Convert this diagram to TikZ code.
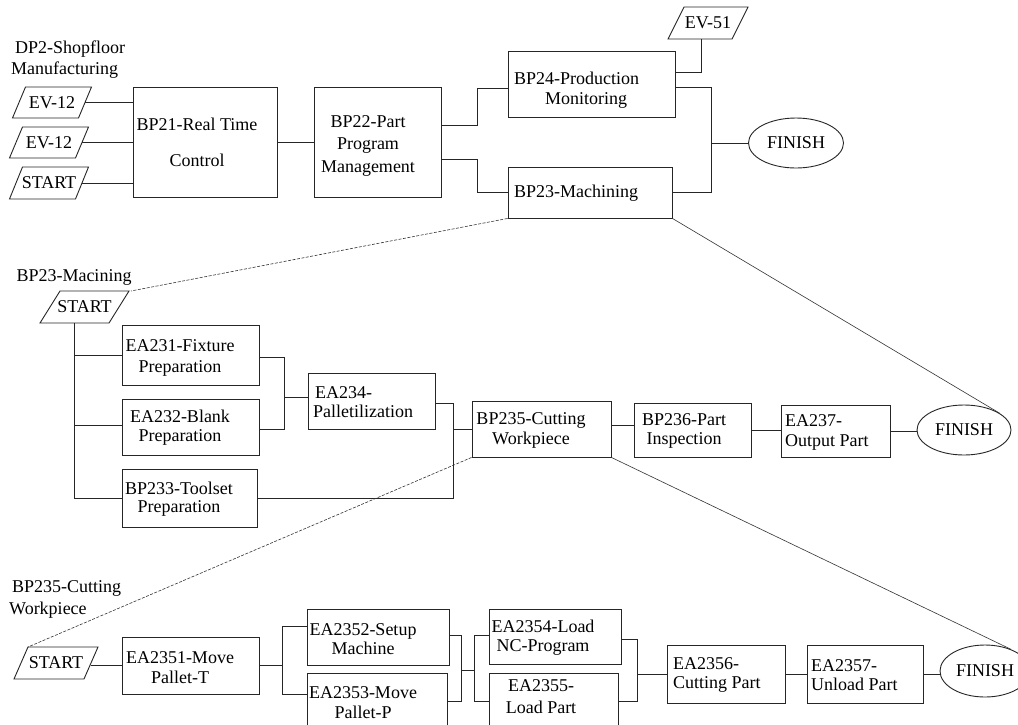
\documentclass[tikz,border=0pt]{standalone}
\usepackage{fontspec}
\setmainfont{Liberation Serif}
\usetikzlibrary{calc,shapes.geometric}
\tikzset{
  boxline/.style={draw=black!85, line width=0.9pt},
  pbox/.style={boxline, rectangle, inner sep=0pt},
  txt/.style={inner sep=0pt, font=\fontsize{18}{20}\selectfont, align=center},
  ltxt/.style={inner sep=0pt, font=\fontsize{18}{20}\selectfont, align=left, anchor=west},
  finish/.style={boxline, ellipse, inner sep=0pt, font=\fontsize{18}{20}\selectfont},
  ptext/.style={inner sep=0pt, font=\fontsize{18}{20}\selectfont},
  conn/.style={draw=black!85, line width=0.9pt},
  leader/.style={draw=black!80, line width=0.6pt},
  dashleader/.style={leader, dash pattern=on 3pt off 1.5pt},
}
% name, half width, half height, half slant
\newcommand{\paraOutline}[4]{%
  \draw[boxline] ($(#1)+(-#2-#4,#3)$) -- ($(#1)+(-#2+#4,-#3)$) --
    ($(#1)+(#2+#4,-#3)$) -- ($(#1)+(#2-#4,#3)$) -- cycle;}
\begin{document}
\begin{tikzpicture}[x=1pt,y=-1pt]
\clip (0,0) rectangle (1018,724);
\fill[white] (0,0) rectangle (1018,724);

% ================= TOP =================
\node[ltxt, font=\fontsize{18}{21}\selectfont] (lbl1) at (11,59.5) {\hspace*{4pt}DP2-Shopfloor\\Manufacturing};

\node[ptext, minimum width=66pt, minimum height=31pt] (ev1) at (52,102.5) {EV-12};
\paraOutline{ev1}{33}{15.5}{6.5}
\node[ptext, minimum width=66pt, minimum height=31pt] (ev2) at (49,142.5) {EV-12};
\paraOutline{ev2}{33}{15.5}{6.5}
\node[ptext, minimum width=66pt, minimum height=32pt] (start1) at (49,183) {START};
\paraOutline{start1}{33}{16}{6.5}

\node[pbox, minimum width=144pt, minimum height=110pt] (bp21) at (205,142) {};
\node[txt] (bp21t) at (197,142) {BP21-Real Time\\[16pt]Control};

\node[pbox, minimum width=127pt, minimum height=110pt] (bp22) at (377.5,142) {};
\node[txt, font=\fontsize{18}{22.5}\selectfont] (bp22t) at (368,145.5) {BP22-Part\\Program\\Management};

\node[pbox, minimum width=167pt, minimum height=66pt] (bp24) at (591.5,84) {};
\node[ltxt] (bp24t) at (514,90) {BP24-Production\\\hspace*{31pt}Monitoring};

\node[pbox, minimum width=164pt, minimum height=51pt] (bp23) at (590,192.5) {};
\node[txt] (bp23t) at (576,193) {BP23-Machining};

\node[ptext, minimum width=64pt, minimum height=32pt] (ev51) at (708,23) {EV-51};
\paraOutline{ev51}{32}{16}{8}

\node[finish, minimum width=95pt, minimum height=50pt] (fin1) at (796,143) {FINISH};

% top connectors
\draw[conn] (ev1.east) -- (ev1.east -| bp21.west);
\draw[conn] (ev2.east) -- (ev2.east -| bp21.west);
\draw[conn] (start1.east) -- (start1.east -| bp21.west);
\draw[conn] (bp21.east) -- (bp22.west);
\coordinate (j8) at ($(bp22.east)+(36,0)$);
\draw[conn] ([yshift=17pt]bp22.east) -- ([yshift=17pt]bp22.east -| j8) |- ([yshift=-4pt]bp24.west);
\draw[conn] ([yshift=-17pt]bp22.east) -- ([yshift=-17pt]bp22.east -| j8) |- (bp23.west);
\draw[conn] ([xshift=-7pt]ev51.south) |- ([yshift=12pt]bp24.east);
\coordinate (j7) at ($(bp24.east)+(36,3)$);
\draw[conn] ([yshift=-3pt]bp24.east) -- (j7) |- (bp23.east);
\draw[conn] (j7 |- fin1.west) -- (fin1.west);

% ================= MIDDLE =================
\node[txt] (lbl2) at (74,277) {BP23-Macining};

\node[ptext, minimum width=69pt, minimum height=32pt] (start2) at (84.5,307) {START};
\paraOutline{start2}{34.5}{16}{10}

\node[pbox, minimum width=137pt, minimum height=60pt] (ea231) at (190.5,355) {};
\node[txt, font=\fontsize{18}{21}\selectfont] (ea231t) at (180,357.5) {EA231-Fixture\\Preparation};
\node[pbox, minimum width=137pt, minimum height=56pt] (ea232) at (190.5,427) {};
\node[txt, font=\fontsize{18}{19.5}\selectfont] (ea232t) at (180,427.5) {EA232-Blank\\Preparation};
\node[pbox, minimum width=135pt, minimum height=58pt] (bp233) at (189.5,498) {};
\node[txt, font=\fontsize{18}{18.5}\selectfont] (bp233t) at (179,499) {BP233-Toolset\\Preparation};

\node[pbox, minimum width=127pt, minimum height=56pt] (ea234) at (371.5,401) {};
\node[ltxt, font=\fontsize{18}{19}\selectfont] (ea234t) at (313,402) {\hspace*{2pt}EA234-\\Palletilization};

\node[pbox, minimum width=139pt, minimum height=56pt] (bp235) at (541.5,429) {};
\node[txt] (bp235t) at (531,430) {BP235-Cutting\\Workpiece};
\node[pbox, minimum width=117pt, minimum height=54pt] (bp236) at (692.5,430) {};
\node[txt, font=\fontsize{18}{19}\selectfont] (bp236t) at (684,431) {BP236-Part\\Inspection};
\node[pbox, minimum width=109pt, minimum height=52pt] (ea237) at (835.5,431) {};
\node[ltxt] (ea237t) at (785,432) {EA237-\\Output Part};
\node[finish, minimum width=94pt, minimum height=50pt] (fin2) at (964,430) {FINISH};

% middle connectors
\coordinate (trunk) at ($(start2.south)+(-10.5,0)$);
\draw[conn] (trunk) -- (trunk |- bp233.west) -- (bp233.west);
\draw[conn] (trunk |- ea231.west) -- (ea231.west);
\draw[conn] ([yshift=2pt]trunk |- ea232.west) -- ([yshift=2pt]ea232.west);
\coordinate (j1) at ($(ea231.east)+(25,2)$);
\draw[conn] ([yshift=-2pt]ea231.east) -- (j1) |- ([yshift=-2pt]ea232.east);
\draw[conn] ([yshift=4pt]j1 |- ea234.west) -- ([yshift=4pt]ea234.west);
\coordinate (j2) at ($(ea234.east)+(18,2)$);
\draw[conn] ([yshift=-2pt]ea234.east) -- (j2) |- (bp233.east);
\draw[conn] (j2 |- bp235.west) -- (bp235.west);
\draw[conn] ([yshift=4pt]bp235.east) -- ([yshift=4pt]bp235.east -| bp236.west);
\draw[conn] (bp236.east) -- (bp236.east -| ea237.west);
\draw[conn] (ea237.east) -- (ea237.east -| fin2.west);

% leaders top -> middle
\coordinate (s2tr) at ($(start2)+(46.5,-16)$);
\draw[dashleader] (bp23.south west) -- (s2tr);
\draw[leader] (bp23.south east) -- (fin2.25);

% ================= BOTTOM =================
\node[ltxt, font=\fontsize{18}{22}\selectfont] (lbl3) at (9,599) {\hspace*{3pt}BP235-Cutting\\Workpiece};

\node[ptext, minimum width=70pt, minimum height=32pt] (start3) at (56,663) {START};
\paraOutline{start3}{35}{16}{7}

\node[pbox, minimum width=137pt, minimum height=57pt] (ea2351) at (190.5,665.5) {};
\node[txt] (ea2351t) at (180,668) {EA2351-Move\\Pallet-T};
\node[pbox, minimum width=142pt, minimum height=56pt] (ea2352) at (378,637) {};
\node[txt, font=\fontsize{18}{18.5}\selectfont] (ea2352t) at (363,639) {EA2352-Setup\\Machine};
\node[pbox, minimum width=140pt, minimum height=60pt] (ea2353) at (377,703) {};
\node[txt] (ea2353t) at (363,703) {EA2353-Move\\Pallet-P};
\node[pbox, minimum width=132pt, minimum height=55pt] (ea2354) at (555,636.5) {};
\node[txt, font=\fontsize{18}{19}\selectfont] (ea2354t) at (543,637.5) {EA2354-Load\\NC-Program};
\node[pbox, minimum width=129pt, minimum height=60pt] (ea2355) at (553.5,703) {};
\node[txt, font=\fontsize{18}{22}\selectfont] (ea2355t) at (541,697) {EA2355-\\Load Part};
\node[pbox, minimum width=118pt, minimum height=58pt] (ea2356) at (726,674) {};
\node[ltxt, font=\fontsize{18}{18.5}\selectfont] (ea2356t) at (673,675) {EA2356-\\Cutting Part};
\node[pbox, minimum width=116pt, minimum height=58pt] (ea2357) at (865,674) {};
\node[ltxt, font=\fontsize{18}{18.5}\selectfont] (ea2357t) at (811,675) {EA2357-\\Unload Part};
\node[finish, minimum width=90pt, minimum height=52pt] (fin3) at (985,671) {FINISH};

% bottom connectors
\draw[conn] (ea2351.west) -- (ea2351.west -| start3.east);
\coordinate (j3) at ($(ea2351.east)+(23,0)$);
\draw[conn] (ea2351.east) -- (j3);
\draw[conn] ([yshift=11pt]ea2352.west) -| (j3) |- ([yshift=9pt]ea2353.west);
\coordinate (j4) at ($(ea2352.east)+(12,-2)$);
\draw[conn] ([yshift=2pt]ea2352.east) -- (j4) |- ([yshift=2pt]ea2353.east);
\coordinate (j5) at ($(j4)+(13,35)$);
\draw[conn] (j4 |- j5) -- (j5);
\draw[conn] ([yshift=1.5pt]ea2354.west) -| (j5) |- ([yshift=2pt]ea2355.west);
\coordinate (j6) at ($(ea2354.east)+(16,2.5)$);
\draw[conn] ([yshift=-2.5pt]ea2354.east) -- (j6) |- ([yshift=2pt]ea2355.east);
\draw[conn] (j6 |- ea2356.west) -- (ea2356.west);
\draw[conn] (ea2356.east) -- (ea2356.east -| ea2357.west);
\draw[conn] (ea2357.east) -- (ea2357.east -| fin3.west);

% leaders middle -> bottom
\coordinate (s3tl) at ($(start3)+(-28,-16)$);
\draw[dashleader] (bp235.south west) -- (s3tl);
\draw[leader] (bp235.south east) -- (fin3.40);
\end{tikzpicture}
\end{document}
